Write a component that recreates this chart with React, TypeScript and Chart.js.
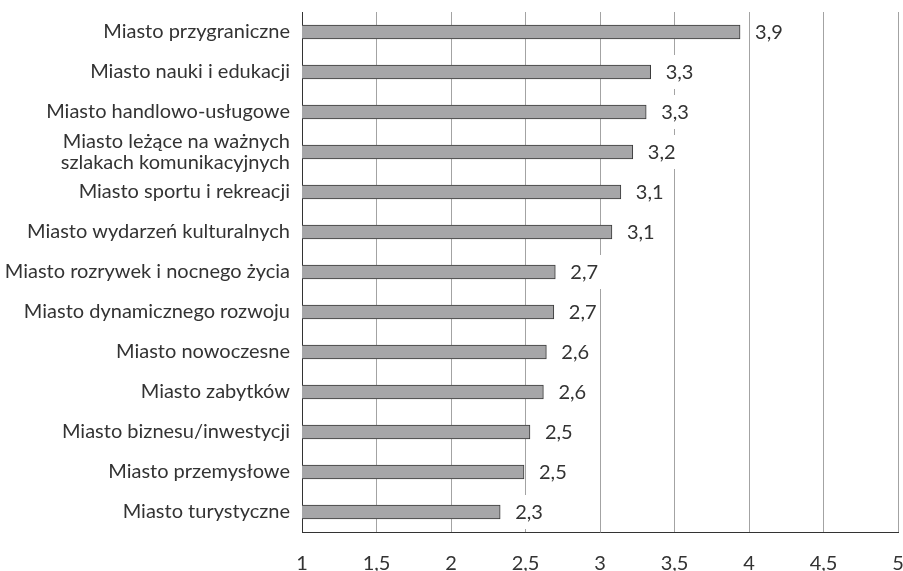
import React, { useEffect, useRef } from "react";
import { Chart, registerables } from "chart.js";

Chart.register(...registerables);

const categories: (string | string[])[] = [
  "Miasto przygraniczne",
  "Miasto nauki i edukacji",
  "Miasto handlowo-usługowe",
  ["Miasto leżące na ważnych", "szlakach komunikacyjnych"],
  "Miasto sportu i rekreacji",
  "Miasto wydarzeń kulturalnych",
  "Miasto rozrywek i nocnego życia",
  "Miasto dynamicznego rozwoju",
  "Miasto nowoczesne",
  "Miasto zabytków",
  "Miasto biznesu/inwestycji",
  "Miasto przemysłowe",
  "Miasto turystyczne",
];

const values: number[] = [3.94, 3.34, 3.31, 3.22, 3.14, 3.08, 2.7, 2.69, 2.64, 2.62, 2.53, 2.49, 2.33];

const xMin = 1;
const xMax = 5;
const xStep = 0.5;

const FONT = "Lato";
const FONT_SIZE = 20;
const TEXT = "#333333";

const fmt = (v: number, d: number) => v.toFixed(d).replace(".", ",");

const labelPlugin = {
  id: "valueLabels",
  afterDatasetsDraw(chart: any) {
    const ctx = chart.ctx;
    const meta = chart.getDatasetMeta(0);
    ctx.save();
    ctx.font = `${FONT_SIZE}px ${FONT}`;
    ctx.textBaseline = "middle";
    ctx.textAlign = "left";
    meta.data.forEach((el: any, i: number) => {
      const txt = fmt(values[i], 1);
      const w = ctx.measureText(txt).width;
      const tx = el.x + 15;
      ctx.fillStyle = "#ffffff";
      ctx.fillRect(tx - 3, el.y - 17, w + 6, 34);
      ctx.fillStyle = TEXT;
      ctx.fillText(txt, tx, el.y + 1);
    });
    ctx.restore();
  },
};

const zeroPad = (s: any) => {
  s.paddingTop = 0;
  s.paddingBottom = 0;
  s.paddingLeft = 0;
  s.paddingRight = 0;
};

export default function App() {
  const ref = useRef<HTMLCanvasElement | null>(null);
  useEffect(() => {
    document.body.style.margin = "0";
    const canvas = ref.current!;
    const chart = new Chart(canvas, {
      type: "bar",
      data: {
        labels: categories,
        datasets: [
          {
            data: values,
            backgroundColor: "#a6a6a8",
            borderColor: "#3a3a3a",
            borderWidth: 1,
            barThickness: 14,
          },
        ],
      },
      options: {
        indexAxis: "y",
        responsive: false,
        animation: false,
        devicePixelRatio: 1,
        layout: { padding: { top: 12, right: 5, left: 0, bottom: 0 } },
        plugins: {
          legend: { display: false },
          tooltip: { enabled: false },
        },
        scales: {
          x: {
            min: xMin,
            max: xMax,
            grid: { color: "#a3a3a3", lineWidth: 1, drawTicks: false },
            border: { display: true, color: "#333333", width: 1 },
            ticks: {
              stepSize: xStep,
              color: TEXT,
              font: { family: FONT, size: FONT_SIZE },
              padding: 20,
              callback: (v: any) => fmt(Number(v), Number.isInteger(Number(v)) ? 0 : 1),
            },
            afterFit: (s: any) => {
              s.height = 39;
              zeroPad(s);
            },
          },
          y: {
            grid: { display: false, drawTicks: false },
            border: { display: true, color: "#333333", width: 1 },
            ticks: {
              autoSkip: false,
              color: TEXT,
              font: { family: FONT, size: FONT_SIZE, lineHeight: 1.05 },
              padding: 12,
            },
            afterFit: (s: any) => {
              s.width = 302;
              zeroPad(s);
            },
          },
        },
      },
      plugins: [labelPlugin],
    });
    return () => chart.destroy();
  }, []);
  return <canvas ref={ref} width={903} height={571} style={{ display: "block" }} />;
}
